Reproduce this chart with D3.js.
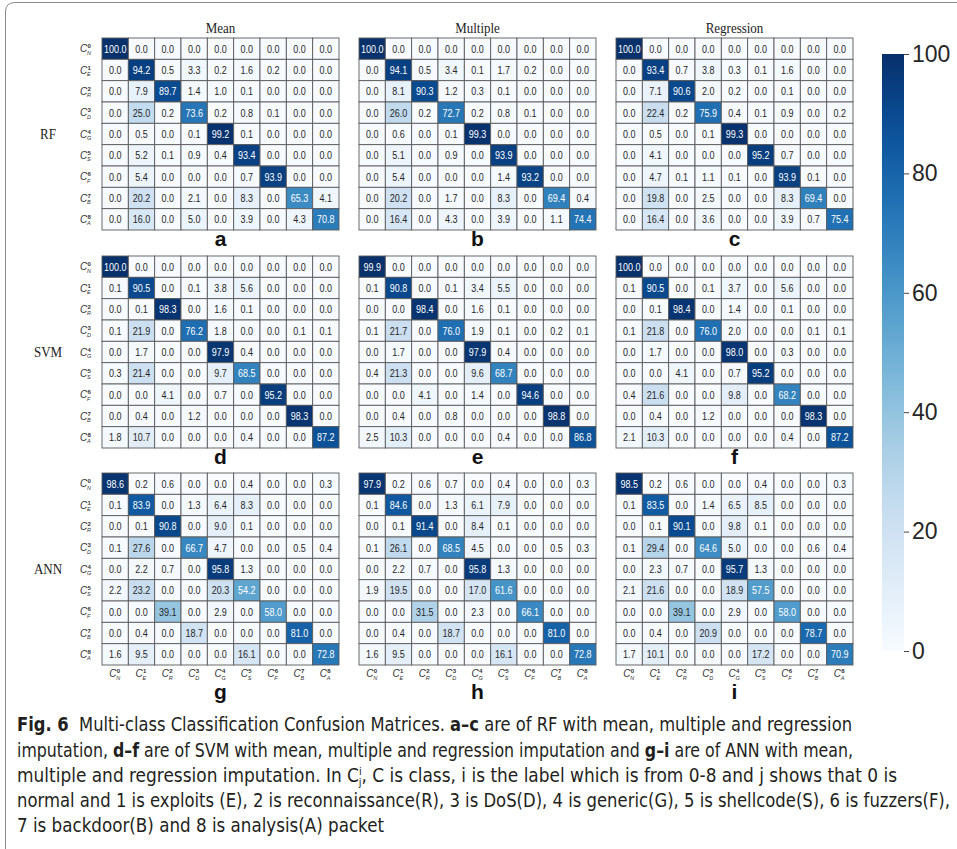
<!DOCTYPE html>
<html>
<head>
<meta charset="utf-8">
<script src="https://cdn.jsdelivr.net/npm/d3@7"></script>
<style>
body { margin: 0; background: #fff; }
</style>
</head>
<body>
<svg id="fig" width="957" height="849"></svg>
<script>
// class labels C^i_j
var classDigits = ["0", "1", "2", "3", "4", "5", "6", "7", "8"];
var classLetters = ["N", "E", "R", "D", "G", "S", "F", "B", "A"];
var methodNames = ["Mean", "Multiple", "Regression"];
var modelNames = ["RF", "SVM", "ANN"];
var panelLetters = [["a", "b", "c"], ["d", "e", "f"], ["g", "h", "i"]];
var colorTicks = [0, 20, 40, 60, 80, 100];

// RF
var rfMean = [
	[100.0, 0.0, 0.0, 0.0, 0.0, 0.0, 0.0, 0.0, 0.0],
	[0.0, 94.2, 0.5, 3.3, 0.2, 1.6, 0.2, 0.0, 0.0],
	[0.0, 7.9, 89.7, 1.4, 1.0, 0.1, 0.0, 0.0, 0.0],
	[0.0, 25.0, 0.2, 73.6, 0.2, 0.8, 0.1, 0.0, 0.0],
	[0.0, 0.5, 0.0, 0.1, 99.2, 0.1, 0.0, 0.0, 0.0],
	[0.0, 5.2, 0.1, 0.9, 0.4, 93.4, 0.0, 0.0, 0.0],
	[0.0, 5.4, 0.0, 0.0, 0.0, 0.7, 93.9, 0.0, 0.0],
	[0.0, 20.2, 0.0, 2.1, 0.0, 8.3, 0.0, 65.3, 4.1],
	[0.0, 16.0, 0.0, 5.0, 0.0, 3.9, 0.0, 4.3, 70.8]
];
var rfMultiple = [
	[100.0, 0.0, 0.0, 0.0, 0.0, 0.0, 0.0, 0.0, 0.0],
	[0.0, 94.1, 0.5, 3.4, 0.1, 1.7, 0.2, 0.0, 0.0],
	[0.0, 8.1, 90.3, 1.2, 0.3, 0.1, 0.0, 0.0, 0.0],
	[0.0, 26.0, 0.2, 72.7, 0.2, 0.8, 0.1, 0.0, 0.0],
	[0.0, 0.6, 0.0, 0.1, 99.3, 0.0, 0.0, 0.0, 0.0],
	[0.0, 5.1, 0.0, 0.9, 0.0, 93.9, 0.0, 0.0, 0.0],
	[0.0, 5.4, 0.0, 0.0, 0.0, 1.4, 93.2, 0.0, 0.0],
	[0.0, 20.2, 0.0, 1.7, 0.0, 8.3, 0.0, 69.4, 0.4],
	[0.0, 16.4, 0.0, 4.3, 0.0, 3.9, 0.0, 1.1, 74.4]
];
var rfRegression = [
	[100.0, 0.0, 0.0, 0.0, 0.0, 0.0, 0.0, 0.0, 0.0],
	[0.0, 93.4, 0.7, 3.8, 0.3, 0.1, 1.6, 0.0, 0.0],
	[0.0, 7.1, 90.6, 2.0, 0.2, 0.0, 0.1, 0.0, 0.0],
	[0.0, 22.4, 0.2, 75.9, 0.4, 0.1, 0.9, 0.0, 0.2],
	[0.0, 0.5, 0.0, 0.1, 99.3, 0.0, 0.0, 0.0, 0.0],
	[0.0, 4.1, 0.0, 0.0, 0.0, 95.2, 0.7, 0.0, 0.0],
	[0.0, 4.7, 0.1, 1.1, 0.1, 0.0, 93.9, 0.1, 0.0],
	[0.0, 19.8, 0.0, 2.5, 0.0, 0.0, 8.3, 69.4, 0.0],
	[0.0, 16.4, 0.0, 3.6, 0.0, 0.0, 3.9, 0.7, 75.4]
];

// SVM
var svmMean = [
	[100.0, 0.0, 0.0, 0.0, 0.0, 0.0, 0.0, 0.0, 0.0],
	[0.1, 90.5, 0.0, 0.1, 3.8, 5.6, 0.0, 0.0, 0.0],
	[0.0, 0.1, 98.3, 0.0, 1.6, 0.1, 0.0, 0.0, 0.0],
	[0.1, 21.9, 0.0, 76.2, 1.8, 0.0, 0.0, 0.1, 0.1],
	[0.0, 1.7, 0.0, 0.0, 97.9, 0.4, 0.0, 0.0, 0.0],
	[0.3, 21.4, 0.0, 0.0, 9.7, 68.5, 0.0, 0.0, 0.0],
	[0.0, 0.0, 4.1, 0.0, 0.7, 0.0, 95.2, 0.0, 0.0],
	[0.0, 0.4, 0.0, 1.2, 0.0, 0.0, 0.0, 98.3, 0.0],
	[1.8, 10.7, 0.0, 0.0, 0.0, 0.4, 0.0, 0.0, 87.2]
];
var svmMultiple = [
	[99.9, 0.0, 0.0, 0.0, 0.0, 0.0, 0.0, 0.0, 0.0],
	[0.1, 90.8, 0.0, 0.1, 3.4, 5.5, 0.0, 0.0, 0.0],
	[0.0, 0.0, 98.4, 0.0, 1.6, 0.1, 0.0, 0.0, 0.0],
	[0.1, 21.7, 0.0, 76.0, 1.9, 0.1, 0.0, 0.2, 0.1],
	[0.0, 1.7, 0.0, 0.0, 97.9, 0.4, 0.0, 0.0, 0.0],
	[0.4, 21.3, 0.0, 0.0, 9.6, 68.7, 0.0, 0.0, 0.0],
	[0.0, 0.0, 4.1, 0.0, 1.4, 0.0, 94.6, 0.0, 0.0],
	[0.0, 0.4, 0.0, 0.8, 0.0, 0.0, 0.0, 98.8, 0.0],
	[2.5, 10.3, 0.0, 0.0, 0.0, 0.4, 0.0, 0.0, 86.8]
];
var svmRegression = [
	[100.0, 0.0, 0.0, 0.0, 0.0, 0.0, 0.0, 0.0, 0.0],
	[0.1, 90.5, 0.0, 0.1, 3.7, 0.0, 5.6, 0.0, 0.0],
	[0.0, 0.1, 98.4, 0.0, 1.4, 0.0, 0.1, 0.0, 0.0],
	[0.1, 21.8, 0.0, 76.0, 2.0, 0.0, 0.0, 0.1, 0.1],
	[0.0, 1.7, 0.0, 0.0, 98.0, 0.0, 0.3, 0.0, 0.0],
	[0.0, 0.0, 4.1, 0.0, 0.7, 95.2, 0.0, 0.0, 0.0],
	[0.4, 21.6, 0.0, 0.0, 9.8, 0.0, 68.2, 0.0, 0.0],
	[0.0, 0.4, 0.0, 1.2, 0.0, 0.0, 0.0, 98.3, 0.0],
	[2.1, 10.3, 0.0, 0.0, 0.0, 0.0, 0.4, 0.0, 87.2]
];

// ANN
var annMean = [
	[98.6, 0.2, 0.6, 0.0, 0.0, 0.4, 0.0, 0.0, 0.3],
	[0.1, 83.9, 0.0, 1.3, 6.4, 8.3, 0.0, 0.0, 0.0],
	[0.0, 0.1, 90.8, 0.0, 9.0, 0.1, 0.0, 0.0, 0.0],
	[0.1, 27.6, 0.0, 66.7, 4.7, 0.0, 0.0, 0.5, 0.4],
	[0.0, 2.2, 0.7, 0.0, 95.8, 1.3, 0.0, 0.0, 0.0],
	[2.2, 23.2, 0.0, 0.0, 20.3, 54.2, 0.0, 0.0, 0.0],
	[0.0, 0.0, 39.1, 0.0, 2.9, 0.0, 58.0, 0.0, 0.0],
	[0.0, 0.4, 0.0, 18.7, 0.0, 0.0, 0.0, 81.0, 0.0],
	[1.6, 9.5, 0.0, 0.0, 0.0, 16.1, 0.0, 0.0, 72.8]
];
var annMultiple = [
	[97.9, 0.2, 0.6, 0.7, 0.0, 0.4, 0.0, 0.0, 0.3],
	[0.1, 84.6, 0.0, 1.3, 6.1, 7.9, 0.0, 0.0, 0.0],
	[0.0, 0.1, 91.4, 0.0, 8.4, 0.1, 0.0, 0.0, 0.0],
	[0.1, 26.1, 0.0, 68.5, 4.5, 0.0, 0.0, 0.5, 0.3],
	[0.0, 2.2, 0.7, 0.0, 95.8, 1.3, 0.0, 0.0, 0.0],
	[1.9, 19.5, 0.0, 0.0, 17.0, 61.6, 0.0, 0.0, 0.0],
	[0.0, 0.0, 31.5, 0.0, 2.3, 0.0, 66.1, 0.0, 0.0],
	[0.0, 0.4, 0.0, 18.7, 0.0, 0.0, 0.0, 81.0, 0.0],
	[1.6, 9.5, 0.0, 0.0, 0.0, 16.1, 0.0, 0.0, 72.8]
];
var annRegression = [
	[98.5, 0.2, 0.6, 0.0, 0.0, 0.4, 0.0, 0.0, 0.3],
	[0.1, 83.5, 0.0, 1.4, 6.5, 8.5, 0.0, 0.0, 0.0],
	[0.0, 0.1, 90.1, 0.0, 9.8, 0.1, 0.0, 0.0, 0.0],
	[0.1, 29.4, 0.0, 64.6, 5.0, 0.0, 0.0, 0.6, 0.4],
	[0.0, 2.3, 0.7, 0.0, 95.7, 1.3, 0.0, 0.0, 0.0],
	[2.1, 21.6, 0.0, 0.0, 18.9, 57.5, 0.0, 0.0, 0.0],
	[0.0, 0.0, 39.1, 0.0, 2.9, 0.0, 58.0, 0.0, 0.0],
	[0.0, 0.4, 0.0, 20.9, 0.0, 0.0, 0.0, 78.7, 0.0],
	[1.7, 10.1, 0.0, 0.0, 0.0, 17.2, 0.0, 0.0, 70.9]
];

var grid = [
	[rfMean, rfMultiple, rfRegression],
	[svmMean, svmMultiple, svmRegression],
	[annMean, annMultiple, annRegression]
];

var svg = d3.select("#fig");

// layout
var colX = [102, 359, 616];
var rowY = [38, 256, 473];
var matW = 237, matH = 192;
var sansFont = "'Liberation Sans', Arial, sans-serif";
var serifFont = "'Liberation Serif', 'Times New Roman', serif";

var color = d3.scaleSequential(d3.interpolateBlues).domain([0, 100]);

// seaborn style: light text on dark cells
function relLum(c){
	var rgb = d3.rgb(c);
	var f = function(v){
		v = v / 255;
		return v <= 0.03928 ? v / 12.92 : Math.pow((v + 0.055) / 1.055, 2.4);
	};
	return 0.2126 * f(rgb.r) + 0.7152 * f(rgb.g) + 0.0722 * f(rgb.b);
}

// outer figure box
svg.append("path")
	.attr("d", "M5.5,849 V12 Q5.5,2.5 15,2.5 H957")
	.attr("fill", "none")
	.attr("stroke", "#8a8a8a")
	.attr("stroke-width", 1);

function classLabel(g, x, y, i, anchorRight){
	// x,y is where the "C" starts (baseline)
	var lab = g.append("g").attr("transform", "translate(" + x + "," + y + ")");
	lab.append("text")
		.attr("font-family", sansFont)
		.attr("font-style", "italic")
		.attr("font-size", 10)
		.attr("fill", "#333")
		.text("C");
	lab.append("text")
		.attr("x", 7.5).attr("y", -4)
		.attr("font-family", sansFont)
		.attr("font-size", 6)
		.attr("font-weight", "bold")
		.attr("fill", "#333")
		.text(classDigits[i]);
	lab.append("text")
		.attr("x", 7).attr("y", 2.5)
		.attr("font-family", sansFont)
		.attr("font-style", "italic")
		.attr("font-size", 5.5)
		.attr("fill", "#333")
		.text(classLetters[i]);
}

grid.forEach(function(rowMats, r){
	rowMats.forEach(function(mat, c){
		var x = d3.scaleBand().domain(d3.range(9)).range([colX[c], colX[c] + matW]);
		var y = d3.scaleBand().domain(d3.range(9)).range([rowY[r], rowY[r] + matH]);
		var g = svg.append("g").attr("class", "matrix");

		var cells = [];
		mat.forEach(function(row, i){
			row.forEach(function(v, j){ cells.push({i: i, j: j, v: v}); });
		});

		g.selectAll("rect.cell").data(cells).enter().append("rect")
			.attr("class", "cell")
			.attr("x", function(d){ return x(d.j); })
			.attr("y", function(d){ return y(d.i); })
			.attr("width", x.bandwidth())
			.attr("height", y.bandwidth())
			.attr("fill", function(d){ return color(d.v); })
			.attr("stroke", "#5a5a5a")
			.attr("stroke-width", 0.9);

		g.selectAll("text.val").data(cells).enter().append("text")
			.attr("class", "val")
			.attr("transform", function(d){
				return "translate(" + (x(d.j) + x.bandwidth() / 2) + "," + (y(d.i) + y.bandwidth() / 2) + ") scale(1,1.2)";
			})
			.attr("text-anchor", "middle")
			.attr("dy", "0.36em")
			.attr("font-family", sansFont)
			.attr("font-size", 9)
			.attr("fill", function(d){ return relLum(color(d.v)) > 0.408 ? "#262626" : "#ffffff"; })
			.text(function(d){ return d.v.toFixed(1); });

		// method title on top row
		if(r === 0){
			svg.append("text")
				.attr("transform", "translate(" + (colX[c] + matW / 2) + ",33) scale(1,1.2)")
				.attr("text-anchor", "middle")
				.attr("font-family", serifFont)
				.attr("font-size", 13)
				.attr("fill", "#222")
				.text(methodNames[c]);
		}
		// model name and y tick labels on left column
		if(c === 0){
			svg.append("text")
				.attr("transform", "translate(48," + (rowY[r] + matH / 2 + 5) + ") scale(1,1.2)")
				.attr("text-anchor", "middle")
				.attr("font-family", serifFont)
				.attr("font-size", 13)
				.attr("fill", "#222")
				.text(modelNames[r]);
			d3.range(9).forEach(function(i){
				classLabel(svg, 80, y(i) + y.bandwidth() / 2 + 3.5, i);
			});
		}
		// x tick labels on bottom row
		if(r === 2){
			d3.range(9).forEach(function(j){
				classLabel(svg, x(j) + x.bandwidth() / 2 - 6, rowY[r] + matH + 12, j);
			});
		}
		// panel letter
		svg.append("text")
			.attr("x", colX[c] + matW / 2)
			.attr("y", r === 2 ? rowY[r] + matH + 34 : rowY[r] + matH + 16)
			.attr("text-anchor", "middle")
			.attr("font-family", sansFont)
			.attr("font-weight", "bold")
			.attr("font-size", 21)
			.attr("fill", "#111")
			.text(panelLetters[r][c]);
	});
});

// colorbar
var cbX = 882, cbW = 22;
var cbScale = d3.scaleLinear().domain([0, 100]).range([651, 54]);
var defs = svg.append("defs");
var grad = defs.append("linearGradient")
	.attr("id", "cbGrad")
	.attr("x1", 0).attr("y1", 1).attr("x2", 0).attr("y2", 0);
d3.range(0, 101, 5).forEach(function(v){
	grad.append("stop").attr("offset", v / 100).attr("stop-color", color(v));
});
svg.append("rect")
	.attr("x", cbX).attr("y", cbScale(100))
	.attr("width", cbW).attr("height", cbScale(0) - cbScale(100))
	.attr("fill", "url(#cbGrad)");

var cbAxis = svg.append("g")
	.attr("transform", "translate(" + (cbX + cbW) + ",0)")
	.call(d3.axisRight(cbScale).tickValues(colorTicks).tickSize(5).tickPadding(3).tickFormat(d3.format("d")));
cbAxis.select(".domain").remove();
cbAxis.selectAll(".tick line").attr("stroke", "#444");
cbAxis.selectAll(".tick text")
	.attr("font-family", sansFont)
	.attr("font-size", 23)
	.attr("fill", "#262626");

// caption
var capFont = "'Liberation Sans Narrow', 'DejaVu Sans Condensed', 'Noto Sans', sans-serif";
var capLines = [
	{y: 731, len: 835, parts: [["Fig. 6", "b"], ["  Multi-class Classification Confusion Matrices. ", ""], ["a–c", "b"], [" are of RF with mean, multiple and regression", ""]]},
	{y: 757, len: 836, parts: [["imputation, ", ""], ["d–f", "b"], [" are of SVM with mean, multiple and regression imputation and ", ""], ["g–i", "b"], [" are of ANN with mean,", ""]]},
	{y: 782, len: 880, parts: [["multiple and regression imputation. In C", ""], ["i", "sup"], ["j", "sub"], [", C is class, i is the label which is from 0-8 and j shows that 0 is", "back"]]},
	{y: 807, len: 933, parts: [["normal and 1 is exploits (E), 2 is reconnaissance(R), 3 is DoS(D), 4 is generic(G), 5 is shellcode(S), 6 is fuzzers(F),", ""]]},
	{y: 832, len: 367, parts: [["7 is backdoor(B) and 8 is analysis(A) packet", ""]]}
];
capLines.forEach(function(line){
	var t = svg.append("text")
		.attr("x", 17).attr("y", line.y)
		.attr("font-family", capFont)
		.attr("font-stretch", "condensed")
		.attr("font-size", 19)
		.attr("fill", "#231f20")
		.attr("textLength", line.len)
		.attr("lengthAdjust", "spacingAndGlyphs")
		.style("white-space", "pre");
	line.parts.forEach(function(p){
		var s = t.append("tspan").text(p[0]);
		if(p[1] === "b") s.attr("font-weight", "bold");
		if(p[1] === "sup") s.attr("font-size", 11).attr("dy", -7);
		if(p[1] === "sub") s.attr("font-size", 11).attr("dx", -3).attr("dy", 11);
		if(p[1] === "back") s.attr("dy", -4);
	});
});
</script>
</body>
</html>
